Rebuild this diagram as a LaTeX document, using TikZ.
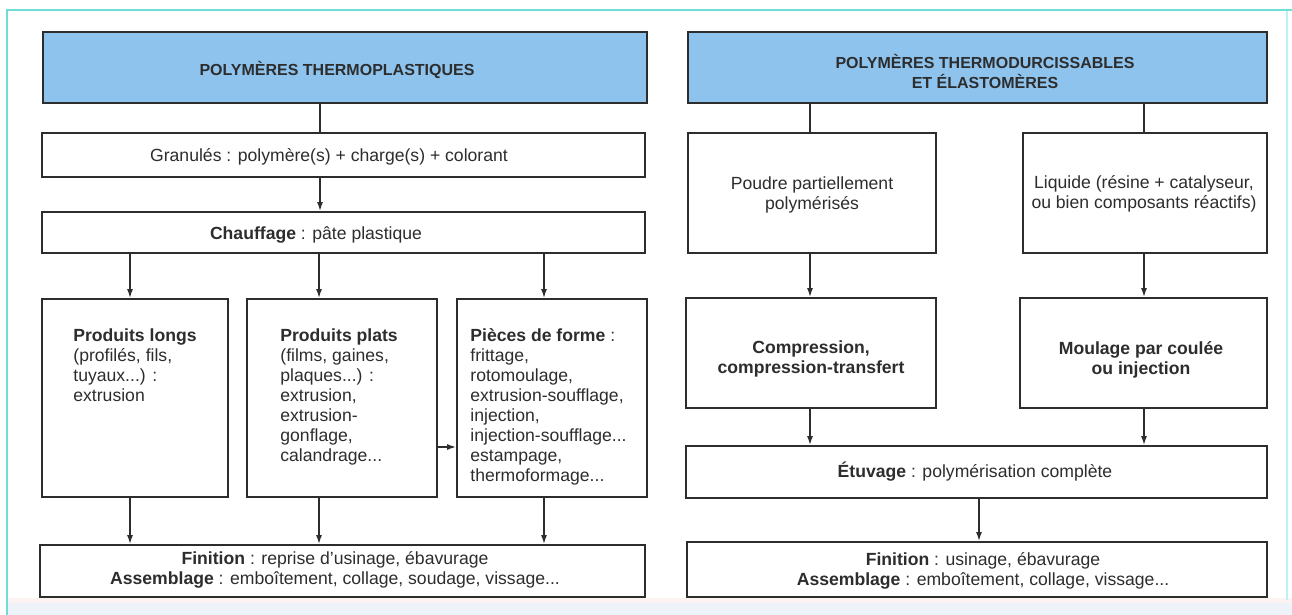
\documentclass[tikz,border=0pt]{standalone}
\usepackage{fontspec}
\setmainfont{Liberation Sans}
\usetikzlibrary{arrows.meta,fit}
\definecolor{titleblue}{RGB}{142,195,238}
\definecolor{framecyan}{RGB}{110,222,216}
\definecolor{ink}{RGB}{45,45,45}
\definecolor{stripbg}{RGB}{238,242,249}
\definecolor{strippink}{RGB}{252,242,241}

\begin{document}
\begin{tikzpicture}[x=0.5pt,y=-0.5pt,
  box/.style={draw=ink, line width=0.9pt, fill=white, inner sep=0pt},
  titlebox/.style={box, fill=titleblue},
  txt/.style={inner sep=0pt, font=\fontsize{8.8}{10}\selectfont, text=ink, align=center},
  ttl/.style={inner sep=0pt, font=\fontsize{8}{10}\selectfont\bfseries, text=ink, align=center},
  coltxt/.style={txt, align=left, anchor=north west},
  link/.style={draw=ink, line width=0.75pt},
  arr/.style={link, -{Latex[length=4.5pt,width=3pt]}}]

% page, bottom strip and frame
\useasboundingbox (0,0) rectangle (1292,615);
\fill[white] (0,0) rectangle (1292,615);
\fill[strippink] (7,598) rectangle (1292,603);
\fill[stripbg] (7,603) rectangle (1292,615);
\draw[framecyan!45, line width=0.6pt] (1287,10) -- (1287,600);
\draw[framecyan, line width=1.2pt] (7,615) -- (7,10) -- (1292,10);

% connector columns
\coordinate (cL) at (320,0);
\coordinate (cA) at (130,0);
\coordinate (cB) at (319,0);
\coordinate (cC) at (544,0);
\coordinate (cP) at (810,0);
\coordinate (cQ) at (1144,0);
\coordinate (cE) at (979,0);
\coordinate (rowH) at (0,447);

% ---- thermoplastics ----
\node[titlebox, fit={(43,32) (647,103)}] (tL) {};
\node[ttl] (tLt) at (337,70) {POLYMÈRES THERMOPLASTIQUES};

\node[box, fit={(42,133) (645,177)}] (gran) {};
\node[txt] (grant) at (329,157) {Granulés : polymère(s) + charge(s) + colorant};

\node[box, fit={(42,212) (645,253)}] (chauf) {};
\node[txt] (chauft) at (316,235) {\textbf{Chauffage} : pâte plastique};

\node[box, fit={(42,299) (228,497)}] (longs) {};
\node[coltxt] (longst) at (73,328) {\textbf{Produits longs}\\(profilés, fils,\\tuyaux...) :\\extrusion};

\node[box, fit={(247,299) (437,497)}] (plats) {};
\node[coltxt] (platst) at (280,328) {\textbf{Produits plats}\\(films, gaines,\\plaques...) :\\extrusion,\\extrusion-\\gonflage,\\calandrage...};

\node[box, fit={(457,299) (647,497)}] (pieces) {};
\node[coltxt] (piecest) at (470,328) {\textbf{Pièces de forme} :\\frittage,\\rotomoulage,\\extrusion-soufflage,\\injection,\\injection-soufflage...\\estampage,\\thermoformage...};

\node[box, fit={(40,545) (645,597)}] (finL) {};
\node[txt] (finLt) at (335,570) {\textbf{Finition} : reprise d'usinage, ébavurage\\\textbf{Assemblage} : emboîtement, collage, soudage, vissage...};

\draw[link] (tL.south -| cL) -- (gran.north -| cL);
\draw[arr] (gran.south -| cL) -- (chauf.north -| cL);
\draw[arr] (chauf.south -| cA) -- (longs.north -| cA);
\draw[arr] (chauf.south -| cB) -- (plats.north -| cB);
\draw[arr] (chauf.south -| cC) -- (pieces.north -| cC);
\draw[arr] (plats.east |- rowH) -- (pieces.west |- rowH);
\draw[arr] (longs.south -| cA) -- (finL.north -| cA);
\draw[arr] (plats.south -| cB) -- (finL.north -| cB);
\draw[arr] (pieces.south -| cC) -- (finL.north -| cC);

% ---- thermosets and elastomers ----
\node[titlebox, fit={(688,32) (1267,103)}] (tR) {};
\node[ttl] (tRt) at (985,71.5) {POLYMÈRES THERMODURCISSABLES\\ET ÉLASTOMÈRES};

\node[box, fit={(688,133) (936,253)}] (poudre) {};
\node[txt] (poudret) at (812,195) {Poudre partiellement\\polymérisés};

\node[box, fit={(1023,133) (1267,253)}] (liquide) {};
\node[txt] (liquidet) at (1144,194) {Liquide (résine + catalyseur,\\ou bien composants réactifs)};

\node[box, fit={(686,298) (936,408)}] (comp) {};
\node[txt, font=\fontsize{8.8}{10}\selectfont\bfseries] (compt) at (811,359) {Compression,\\compression-transfert};

\node[box, fit={(1020,298) (1267,408)}] (moul) {};
\node[txt, font=\fontsize{8.8}{10}\selectfont\bfseries] (moult) at (1141,360) {Moulage par coulée\\ou injection};

\node[box, fit={(686,446) (1267,498)}] (etuv) {};
\node[txt] (etuvt) at (975,472) {\textbf{Étuvage} : polymérisation complète};

\node[box, fit={(687,542) (1267,597)}] (finR) {};
\node[txt] (finRt) at (983,571) {\textbf{Finition} : usinage, ébavurage\\\textbf{Assemblage} : emboîtement, collage, vissage...};

\draw[link] (tR.south -| cP) -- (poudre.north -| cP);
\draw[link] (tR.south -| cQ) -- (liquide.north -| cQ);
\draw[arr] (poudre.south -| cP) -- (comp.north -| cP);
\draw[arr] (liquide.south -| cQ) -- (moul.north -| cQ);
\draw[arr] (comp.south -| cP) -- (etuv.north -| cP);
\draw[arr] (moul.south -| cQ) -- (etuv.north -| cQ);
\draw[arr] (etuv.south -| cE) -- (finR.north -| cE);
\end{tikzpicture}
\end{document}
